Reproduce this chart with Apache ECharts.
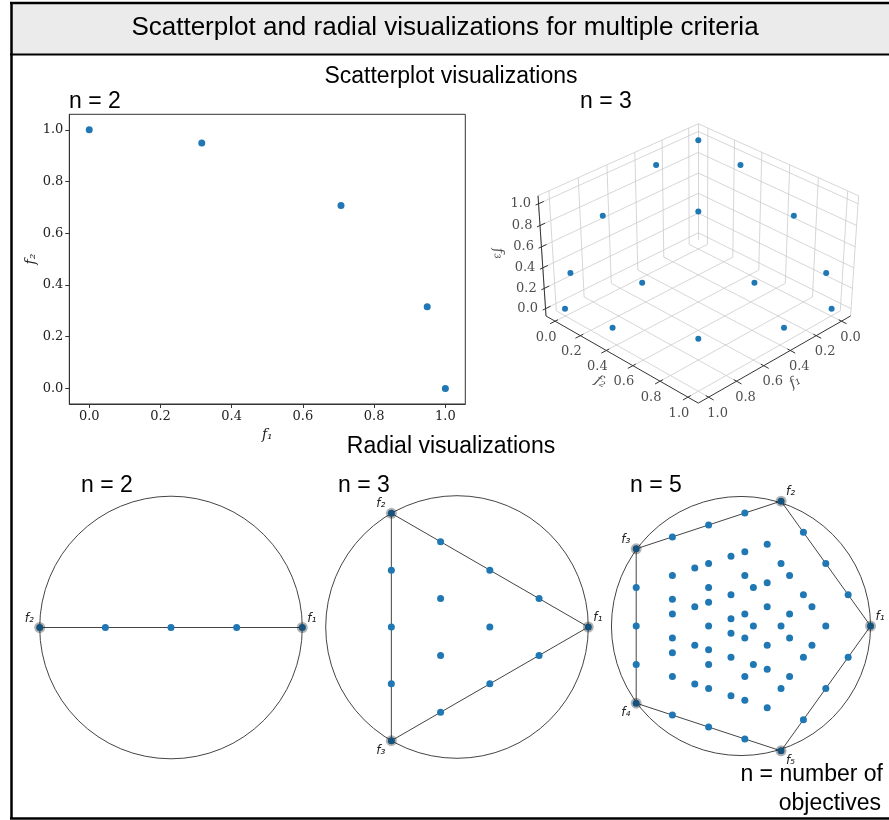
<!DOCTYPE html>
<html>
<head>
<meta charset="utf-8">
<script src="https://cdn.jsdelivr.net/npm/echarts@6/dist/echarts.min.js"></script>
<style>
  html, body { margin: 0; padding: 0; background: #fff; }
  #chart { width: 889px; height: 820px; }
</style>
</head>
<body>
<div id="chart"></div>
<script>
const BLUE = '#1f77b4'
const SANS = "'Liberation Sans', Arial, sans-serif"
const SERIF = "'DejaVu Serif', serif"
const MATH = "'DejaVu Sans', sans-serif"
const SUB = ['₁', '₂', '₃', '₄', '₅']

// n = 2 scatterplot
const F1_2D = [0.0, 0.316, 0.707, 0.949, 1.0]
const F2_2D = [1.0, 0.949, 0.707, 0.316, 0.0]
const TICKS = [0, 0.2, 0.4, 0.6, 0.8, 1.0]

// n = 3 scatterplot, [f1, f2, f3]
const POINTS_3D = [
  [1.0, 0.0, 0.0], [0.949, 0.316, 0.0], [0.707, 0.707, 0.0], [0.316, 0.949, 0.0], [0.0, 1.0, 0.0],
  [0.949, 0.0, 0.316], [0.816, 0.408, 0.408], [0.408, 0.816, 0.408], [0.0, 0.949, 0.316],
  [0.707, 0.0, 0.707], [0.408, 0.408, 0.816], [0.0, 0.707, 0.707],
  [0.316, 0.0, 0.949], [0.0, 0.316, 0.949],
  [0.0, 0.0, 1.0],
]

// radial weights (quarters) for each objective
const RADIAL_2 = [[4, 0], [3, 1], [2, 2], [1, 3], [0, 4]]
const RADIAL_3 = [
  [4, 0, 0], [3, 1, 0], [3, 0, 1], [2, 2, 0], [2, 1, 1], [2, 0, 2], [1, 3, 0], [1, 2, 1],
  [1, 1, 2], [1, 0, 3], [0, 4, 0], [0, 3, 1], [0, 2, 2], [0, 1, 3], [0, 0, 4],
]
const RADIAL_5 = [
  [4, 0, 0, 0, 0],
  [3, 1, 0, 0, 0], [3, 0, 1, 0, 0], [3, 0, 0, 1, 0], [3, 0, 0, 0, 1],
  [2, 2, 0, 0, 0], [2, 1, 1, 0, 0], [2, 1, 0, 1, 0], [2, 1, 0, 0, 1], [2, 0, 2, 0, 0],
  [2, 0, 1, 1, 0], [2, 0, 1, 0, 1], [2, 0, 0, 2, 0], [2, 0, 0, 1, 1], [2, 0, 0, 0, 2],
  [1, 3, 0, 0, 0], [1, 2, 1, 0, 0], [1, 2, 0, 1, 0], [1, 2, 0, 0, 1],
  [1, 1, 2, 0, 0], [1, 1, 1, 1, 0], [1, 1, 1, 0, 1], [1, 1, 0, 2, 0], [1, 1, 0, 1, 1], [1, 1, 0, 0, 2],
  [1, 0, 3, 0, 0], [1, 0, 2, 1, 0], [1, 0, 2, 0, 1], [1, 0, 1, 2, 0], [1, 0, 1, 1, 1],
  [1, 0, 1, 0, 2], [1, 0, 0, 3, 0], [1, 0, 0, 2, 1], [1, 0, 0, 1, 2], [1, 0, 0, 0, 3],
  [0, 4, 0, 0, 0],
  [0, 3, 1, 0, 0], [0, 3, 0, 1, 0], [0, 3, 0, 0, 1],
  [0, 2, 2, 0, 0], [0, 2, 1, 1, 0], [0, 2, 1, 0, 1], [0, 2, 0, 2, 0], [0, 2, 0, 1, 1], [0, 2, 0, 0, 2],
  [0, 1, 3, 0, 0], [0, 1, 2, 1, 0], [0, 1, 2, 0, 1], [0, 1, 1, 2, 0], [0, 1, 1, 1, 1],
  [0, 1, 1, 0, 2], [0, 1, 0, 3, 0], [0, 1, 0, 2, 1], [0, 1, 0, 1, 2], [0, 1, 0, 0, 3],
  [0, 0, 4, 0, 0], [0, 0, 3, 1, 0], [0, 0, 3, 0, 1], [0, 0, 2, 2, 0], [0, 0, 2, 1, 1],
  [0, 0, 2, 0, 2], [0, 0, 1, 3, 0], [0, 0, 1, 2, 1], [0, 0, 1, 1, 2], [0, 0, 1, 0, 3],
  [0, 0, 0, 4, 0], [0, 0, 0, 3, 1], [0, 0, 0, 2, 2], [0, 0, 0, 1, 3], [0, 0, 0, 0, 4],
]

// 3d view (perspective, like a matplotlib 3d axes)
const VIEW = { elev: 35, azim: 45, dist: 10, lo: -0.073, hi: 1.073, aspect: [1.19, 1.19, 0.893] }
const VIEW_PX = { cx: 698.3, cy: 257.4, sx: 1856, sy: 1643 }
const BOX3D = { left: 480, top: 110, width: 409, height: 330 }

function project(p) {
  const e = VIEW.elev * Math.PI / 180
  const a = VIEW.azim * Math.PI / 180
  const span = VIEW.hi - VIEW.lo
  const d = p.map((v, i) => (v - VIEW.lo) / span * VIEW.aspect[i] - VIEW.aspect[i] / 2)
  const w = [Math.cos(e) * Math.cos(a), Math.cos(e) * Math.sin(a), Math.sin(e)]
  const u = [-Math.sin(a), Math.cos(a), 0]
  const v = [-Math.sin(e) * Math.cos(a), -Math.sin(e) * Math.sin(a), Math.cos(e)]
  const dot = q => q[0] * d[0] + q[1] * d[1] + q[2] * d[2]
  const depth = VIEW.dist - dot(w)
  return [dot(u) / depth, dot(v) / depth]
}

// projected point nudged by a pixel offset (for axis titles)
function projectShift(p, dx, dy) {
  const q = project(p)
  return [q[0] + dx / VIEW_PX.sx, q[1] - dy / VIEW_PX.sy]
}

function anchorsFor(n) {
  return Array.from({ length: n }, (_, i) => [Math.cos(2 * Math.PI * i / n), Math.sin(2 * Math.PI * i / n)])
}

function radviz(weights) {
  const anchors = anchorsFor(weights[0].length)
  return weights.map(w => {
    const s = w.reduce((acc, x) => acc + x, 0)
    return [
      w.reduce((acc, x, i) => acc + x * anchors[i][0], 0) / s,
      w.reduce((acc, x, i) => acc + x * anchors[i][1], 0) / s,
    ]
  })
}

const chart = echarts.init(document.getElementById('chart'))

// ---- grids ----
const RADIAL_EXT = 150 / 131.3
const RADIAL_CENTERS = [[171, 627.5], [457, 627], [743, 626]]

const grids = [
  { left: 69.3, top: 114.3, width: 396, height: 289.7, show: true, borderColor: '#333', borderWidth: 1, backgroundColor: 'transparent' },
  { left: BOX3D.left, top: BOX3D.top, width: BOX3D.width, height: BOX3D.height },
  ...RADIAL_CENTERS.map(c => ({ left: c[0] - 150, top: c[1] - 150, width: 300, height: 300 })),
]

const axis2d = (gridIndex, name, min, max, nameGap) => ({
  gridIndex, type: 'value', min, max,
  axisLine: { show: true, onZero: false, lineStyle: { color: '#333', width: 1 } },
  axisTick: { show: true, length: 4, customValues: TICKS, lineStyle: { color: '#333' } },
  axisLabel: {
    customValues: TICKS, formatter: v => v.toFixed(1),
    fontFamily: SERIF, fontSize: 13, color: '#222', margin: 6,
  },
  splitLine: { show: false },
  name, nameLocation: 'middle', nameGap,
  nameTextStyle: { fontFamily: SERIF, fontStyle: 'italic', fontSize: 14, color: '#222' },
})

const hidden = (gridIndex, min, max) => ({ gridIndex, type: 'value', min, max, show: false })

const xAxes = [
  axis2d(0, 'f₁', -0.056, 1.056, 24),
  hidden(1, (BOX3D.left - VIEW_PX.cx) / VIEW_PX.sx, (BOX3D.left + BOX3D.width - VIEW_PX.cx) / VIEW_PX.sx),
  hidden(2, -RADIAL_EXT, RADIAL_EXT), hidden(3, -RADIAL_EXT, RADIAL_EXT), hidden(4, -RADIAL_EXT, RADIAL_EXT),
]
const yAxes = [
  axis2d(0, 'f₂', -0.06, 1.06, 30),
  hidden(1, (VIEW_PX.cy - BOX3D.top - BOX3D.height) / VIEW_PX.sy, (VIEW_PX.cy - BOX3D.top) / VIEW_PX.sy),
  hidden(2, -RADIAL_EXT, RADIAL_EXT), hidden(3, -RADIAL_EXT, RADIAL_EXT), hidden(4, -RADIAL_EXT, RADIAL_EXT),
]

// ---- 3d geometry ----
const lo = VIEW.lo, hi = VIEW.hi
const gridSegs = []
TICKS.forEach(t => {
  gridSegs.push([[lo, t, lo], [lo, t, hi]], [[lo, lo, t], [lo, hi, t]])
  gridSegs.push([[t, lo, lo], [t, lo, hi]], [[lo, lo, t], [hi, lo, t]])
  gridSegs.push([[t, lo, lo], [t, hi, lo]], [[lo, t, lo], [hi, t, lo]])
})
gridSegs.push(
  [[lo, lo, lo], [lo, lo, hi]], [[lo, lo, hi], [lo, hi, hi]], [[lo, hi, hi], [lo, hi, lo]],
  [[lo, lo, hi], [hi, lo, hi]], [[hi, lo, hi], [hi, lo, lo]],
)
const axisSegs = [
  [[lo, hi, lo], [hi, hi, lo]],
  [[hi, lo, lo], [hi, hi, lo]],
  [[hi, lo, lo], [hi, lo, hi]],
]
const tickSegs = []
TICKS.forEach(t => {
  tickSegs.push([[t, hi - 0.02, lo], [t, hi + 0.035, lo]])
  tickSegs.push([[hi - 0.02, t, lo], [hi + 0.035, t, lo]])
  tickSegs.push([[hi - 0.035, lo, t], [hi + 0.02, lo, t]])
})

const seg3d = (segs, color, width, z) => ({
  type: 'lines', coordinateSystem: 'cartesian2d', xAxisIndex: 1, yAxisIndex: 1,
  data: segs.map(s => ({ coords: s.map(project) })),
  lineStyle: { color, width, opacity: 1 }, silent: true, z, clip: false,
})

const labelSeries3d = (coords, texts, label) => ({
  type: 'scatter', xAxisIndex: 1, yAxisIndex: 1, symbolSize: 1, silent: true, clip: false,
  itemStyle: { color: 'rgba(0,0,0,0)' },
  data: coords.map((q, i) => ({ value: q, label: { formatter: texts[i] } })),
  label: { show: true, color: '#222', fontFamily: SERIF, fontSize: 13, ...label },
})

const tickText = TICKS.map(t => t.toFixed(1))

// ---- radial series ----
function radialSeries(weights, gi) {
  const n = weights[0].length
  const anchors = anchorsFor(n)
  return [
    {
      type: 'custom', xAxisIndex: gi, yAxisIndex: gi, data: [[0, 0]], silent: true, z: 1,
      renderItem: (params, api) => {
        const c = api.coord([0, 0])
        const r = api.size([1, 1])[0]
        return { type: 'circle', shape: { cx: c[0], cy: c[1], r }, style: { fill: 'none', stroke: '#444', lineWidth: 1 } }
      },
    },
    {
      type: 'line', xAxisIndex: gi, yAxisIndex: gi, data: [...anchors, anchors[0]], symbol: 'none',
      lineStyle: { color: '#444', width: 1 }, silent: true, z: 2,
    },
    {
      type: 'scatter', xAxisIndex: gi, yAxisIndex: gi, data: radviz(weights), symbolSize: 7,
      itemStyle: { color: BLUE, opacity: 1 }, silent: true, z: 3,
    },
    {
      type: 'scatter', xAxisIndex: gi, yAxisIndex: gi, symbolSize: 11, silent: true, z: 4,
      itemStyle: { color: 'rgba(0,0,0,0.3)', opacity: 1 },
      data: anchors.map((p, i) => ({
        value: p,
        label: {
          formatter: 'f' + SUB[i],
          offset: [p[0] > 0.1 ? 9.5 : p[0] < -0.1 ? -10.5 : 0, p[1] >= -1e-9 ? -9 : 10],
        },
      })),
      label: { show: true, position: 'inside', fontFamily: MATH, fontStyle: 'italic', fontSize: 12, color: '#222' },
    },
  ]
}

// ---- text and frame ----
const TEXTS = [
  ['Scatterplot and radial visualizations for multiple criteria', 445, 28, 26, 'center'],
  ['Scatterplot visualizations', 451, 77, 23, 'center'],
  ['n = 2', 69, 102, 23, 'left'],
  ['n = 3', 580, 102, 23, 'left'],
  ['Radial visualizations', 451, 447, 23, 'center'],
  ['n = 2', 81, 486, 23, 'left'],
  ['n = 3', 338, 486, 23, 'left'],
  ['n = 5', 630, 486, 23, 'left'],
  ['n = number of', 883, 775, 23, 'right'],
  ['objectives', 881, 804, 23, 'right'],
]

const graphic = [
  { type: 'rect', shape: { x: 11, y: 3, width: 878, height: 51 }, style: { fill: '#ebebeb' }, z: -1 },
  { type: 'line', shape: { x1: 10, y1: 3, x2: 889, y2: 3 }, style: { stroke: '#000', lineWidth: 2.5 } },
  { type: 'line', shape: { x1: 10, y1: 54.5, x2: 889, y2: 54.5 }, style: { stroke: '#000', lineWidth: 2 } },
  { type: 'line', shape: { x1: 11.5, y1: 2, x2: 11.5, y2: 819 }, style: { stroke: '#000', lineWidth: 2.5 } },
  { type: 'line', shape: { x1: 10, y1: 818.5, x2: 889, y2: 818.5 }, style: { stroke: '#000', lineWidth: 2.5 } },
  ...TEXTS.map(([text, x, y, size, align]) => ({
    type: 'text', x, y,
    style: { text, fontFamily: SANS, fontSize: size, fill: '#000', align, verticalAlign: 'middle' },
  })),
]

chart.setOption({
  animation: false,
  grid: grids,
  xAxis: xAxes,
  yAxis: yAxes,
  graphic,
  series: [
    {
      type: 'scatter', xAxisIndex: 0, yAxisIndex: 0, symbolSize: 7,
      data: F1_2D.map((x, i) => [x, F2_2D[i]]),
      itemStyle: { color: BLUE, opacity: 1 },
    },
    seg3d(gridSegs, '#cccccc', 0.8, 1),
    seg3d(axisSegs, '#333', 1, 2),
    seg3d(tickSegs, '#333', 1, 2),
    {
      type: 'scatter', xAxisIndex: 1, yAxisIndex: 1, symbolSize: 6, clip: false,
      data: POINTS_3D.map(project),
      itemStyle: { color: BLUE, opacity: 1 }, z: 3,
    },
    labelSeries3d(TICKS.map(t => project([t, hi, lo])), tickText, { position: 'inside', offset: [9, 16] }),
    labelSeries3d(TICKS.map(t => project([hi, t, lo])), tickText, { position: 'inside', offset: [-9, 16] }),
    labelSeries3d(TICKS.map(t => project([hi, lo, t])), tickText, { position: 'left', distance: 7 }),
    labelSeries3d([projectShift([0.5, hi, lo], 18, 24)], ['f₁'], { position: 'inside', rotate: 30, fontStyle: 'italic', fontSize: 14 }),
    labelSeries3d([projectShift([hi, 0.5, lo], -19, 24)], ['f₂'], { position: 'inside', rotate: -30, fontStyle: 'italic', fontSize: 14 }),
    labelSeries3d([projectShift([hi, lo, 0.5], -44, -4)], ['f₃'], { position: 'inside', rotate: -85, fontStyle: 'italic', fontSize: 14 }),
    ...radialSeries(RADIAL_2, 2),
    ...radialSeries(RADIAL_3, 3),
    ...radialSeries(RADIAL_5, 4),
  ],
})
</script>
</body>
</html>
